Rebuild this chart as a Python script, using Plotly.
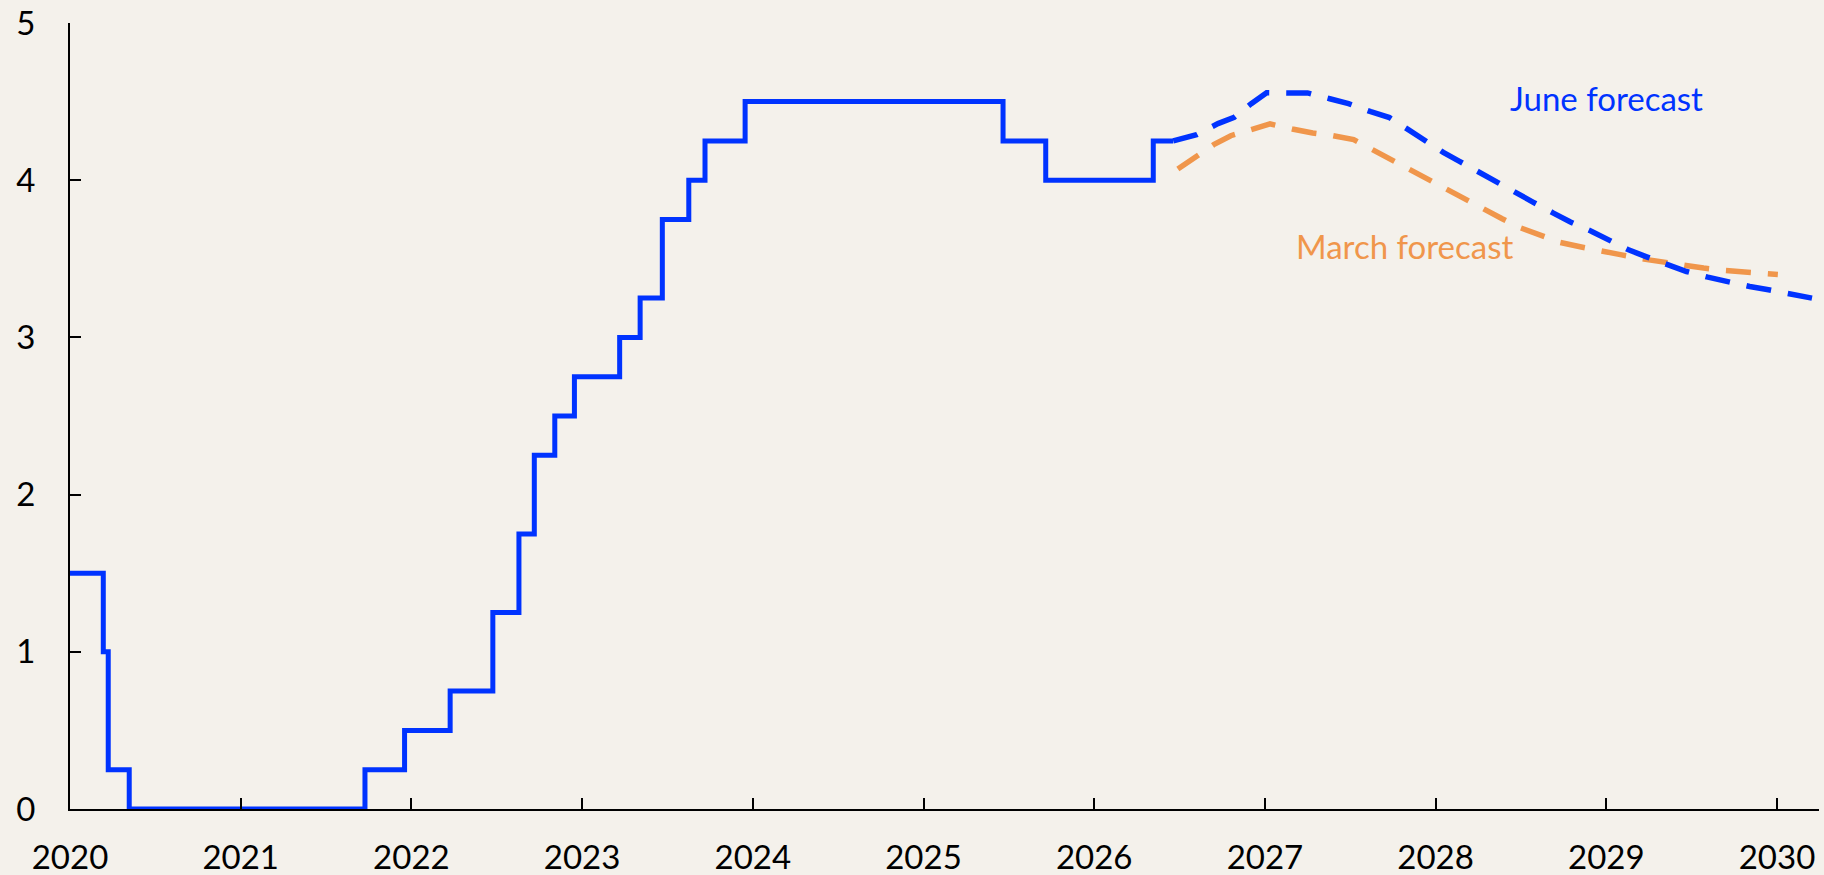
import plotly.graph_objects as go

# Policy rate (step series), decimal years
policy_dates = [2020.0, 2020.195, 2020.224, 2020.347, 2021.728, 2021.96, 2022.227,
                2022.477, 2022.63, 2022.72, 2022.84, 2022.955, 2023.22, 2023.34,
                2023.47, 2023.625, 2023.72, 2023.955, 2025.466, 2025.716, 2026.346,
                2026.463]
policy_rate = [1.5, 1.0, 0.25, 0.0, 0.25, 0.5, 0.75, 1.25, 1.75, 2.25, 2.5, 2.75,
               3.0, 3.25, 3.75, 4.0, 4.25, 4.5, 4.25, 4.0, 4.25, 4.25]

# June forecast
june_dates = [2026.463, 2026.60, 2026.725, 2026.82, 2026.92, 2027.01, 2027.15, 2027.25,
              2027.38, 2027.49, 2027.62, 2027.73, 2027.84, 2027.93, 2028.045, 2028.14,
              2028.26, 2028.36, 2028.48, 2028.57, 2028.69, 2028.79, 2028.915, 2029.01,
              2029.13, 2029.24, 2029.36, 2029.47, 2029.595, 2029.71, 2029.84, 2029.95,
              2030.08, 2030.205]
june_rate = [4.25, 4.29, 4.36, 4.40, 4.487, 4.557, 4.555, 4.555,
             4.518, 4.487, 4.436, 4.398, 4.322, 4.254, 4.177, 4.12,
             4.046, 3.989, 3.918, 3.861, 3.791, 3.734, 3.674, 3.621,
             3.557, 3.511, 3.462, 3.419, 3.383, 3.352, 3.324, 3.303,
             3.277, 3.25]

# March forecast
march_dates = [2026.49, 2026.59, 2026.70, 2026.80, 2026.925, 2027.03, 2027.16, 2027.28,
               2027.40, 2027.52, 2027.63, 2027.73, 2027.85, 2027.95, 2028.07, 2028.16,
               2028.28, 2028.39, 2028.50, 2028.61, 2028.73, 2028.84, 2028.975, 2029.09,
               2029.22, 2029.33, 2029.455, 2029.57, 2029.70, 2029.82, 2029.94, 2030.005]
march_rate = [4.071, 4.145, 4.226, 4.283, 4.326, 4.358, 4.326, 4.30,
              4.283, 4.258, 4.194, 4.135, 4.067, 4.01, 3.944, 3.882,
              3.817, 3.755, 3.696, 3.648, 3.604, 3.578, 3.553, 3.525,
              3.498, 3.479, 3.462, 3.441, 3.425, 3.415, 3.409, 3.40]

x_ticks = list(range(2020, 2031))
x_tick_labels = [str(y) for y in x_ticks]
y_ticks = [0, 1, 2, 3, 4, 5]

BLUE = "#0033FF"
ORANGE = "#F0964B"
BG = "#F4F1EB"
FONT = "Lato"

fig = go.Figure()
fig.add_trace(go.Scatter(x=march_dates, y=march_rate, mode="lines",
                         line=dict(color=ORANGE, width=5.5, dash="25px,17px"),
                         hoverinfo="skip", showlegend=False))
fig.add_trace(go.Scatter(x=june_dates, y=june_rate, mode="lines",
                         line=dict(color=BLUE, width=5.5, dash="25px,17px"),
                         hoverinfo="skip", showlegend=False))
fig.add_trace(go.Scatter(x=policy_dates, y=policy_rate, mode="lines",
                         line=dict(color=BLUE, width=5, shape="hv"),
                         hoverinfo="skip", showlegend=False))

fig.add_annotation(x=2029.004, y=4.52, text="June forecast", showarrow=False,
                   font=dict(family=FONT, size=33, color=BLUE), xanchor="center", yanchor="middle")
fig.add_annotation(x=2027.82, y=3.58, text="March forecast", showarrow=False,
                   font=dict(family=FONT, size=33, color=ORANGE), xanchor="center", yanchor="middle")

fig.update_layout(
    width=1824, height=875,
    margin=dict(l=70, r=5, t=23, b=66),
    paper_bgcolor=BG, plot_bgcolor=BG,
    font=dict(family=FONT, size=33, color="black"),
    xaxis=dict(range=[2020, 2030.246], tickmode="array", tickvals=x_ticks,
               ticktext=x_tick_labels, showgrid=False, zeroline=False,
               showline=True, linecolor="black", linewidth=2,
               ticks="inside", ticklen=11, tickwidth=2, tickcolor="black",
               ticklabelstandoff=18, automargin=False),
    yaxis=dict(range=[0, 5], tickmode="array", tickvals=y_ticks,
               showgrid=False, zeroline=False,
               showline=True, linecolor="black", linewidth=2,
               ticks="inside", ticklen=11, tickwidth=2, tickcolor="black",
               ticklabelstandoff=26, automargin=False),
)

fig.write_html("out.html", config={"displayModeBar": False},
               post_script="document.body.style.margin='0';document.body.style.overflow='hidden';")
